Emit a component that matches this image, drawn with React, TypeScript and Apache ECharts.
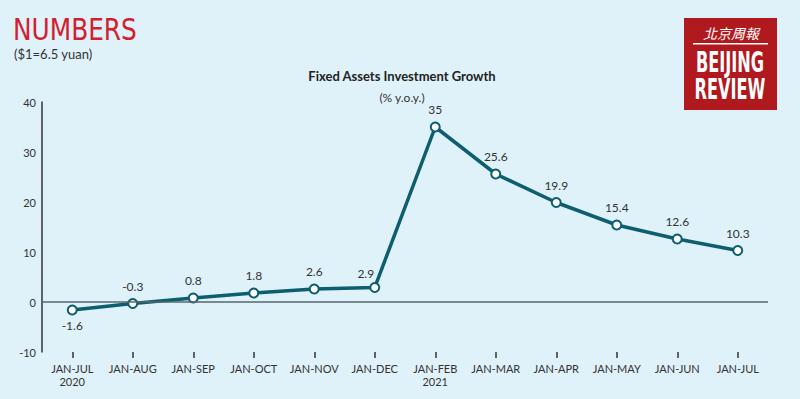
import React, { useEffect, useRef } from "react";
import * as echarts from "echarts";

const categories = [
  "JAN-JUL\n2020", "JAN-AUG", "JAN-SEP", "JAN-OCT", "JAN-NOV", "JAN-DEC",
  "JAN-FEB\n2021", "JAN-MAR", "JAN-APR", "JAN-MAY", "JAN-JUN", "JAN-JUL",
];
const growth = [-1.6, -0.3, 0.8, 1.8, 2.6, 2.9, 35, 25.6, 19.9, 15.4, 12.6, 10.3];
const yMin = -10;
const yMax = 40;
const yInterval = 10;

const title = "Fixed Assets Investment Growth";
const subtitle = "(% y.o.y.)";
const header = "NUMBERS";
const note = "($1=6.5 yuan)";

const LINE = "#0d5e6f";
const TEXT = "#333333";
const BG = "#dff1f9";
const RED = "#d3202f";
const LOGO = "#b0191e";
const FONT = "Lato, 'Noto Sans', sans-serif";

export default function App() {
  const ref = useRef<HTMLDivElement>(null);
  useEffect(() => {
    document.body.style.margin = "0";
    const chart = echarts.init(ref.current!, null, { renderer: "svg" });
    chart.setOption({
      animation: false,
      backgroundColor: BG,
      textStyle: { fontFamily: FONT },
      title: [
        {
          text: title,
          left: 397,
          textAlign: "center",
          top: 64,
          textStyle: { fontSize: 13, fontWeight: "bold", color: "#222", fontFamily: FONT },
        },
        {
          text: subtitle,
          left: 397,
          textAlign: "center",
          top: 86,
          textStyle: { fontSize: 12, fontWeight: "normal", color: TEXT, fontFamily: FONT },
        },
      ],
      graphic: [
        {
          type: "text",
          x: 13,
          y: 15,
          scaleX: 0.92,
          style: {
            text: header,
            fill: RED,
            font: "normal 30px 'DejaVu Sans Condensed', 'Liberation Sans Narrow', sans-serif",
          },
        },
        {
          type: "text",
          x: 14,
          y: 47,
          style: { text: note, fill: TEXT, font: "13px " + FONT },
        },
        {
          type: "rect",
          shape: { x: 684, y: 18, width: 93, height: 92 },
          style: { fill: LOGO },
        },
        {
          type: "text",
          x: 731,
          y: 26,
          style: {
            text: "北京周報",
            fill: "#fff",
            font: "italic 14px 'Noto Sans CJK TC', sans-serif",
            align: "center",
            letterSpacing: 5,
          },
        },
        {
          type: "rect",
          shape: { x: 693, y: 43, width: 75, height: 1.5 },
          style: { fill: "#fff" },
        },
        {
          type: "group",
          x: 730,
          y: 48,
          scaleX: 0.62,
          children: [
            {
              type: "text",
              x: 0,
              y: 0,
              style: {
                text: "BEIJING",
                fill: "#fff",
                font: "bold 29px 'DejaVu Sans Condensed', sans-serif",
                align: "center",
              },
            },
          ],
        },
        {
          type: "group",
          x: 730,
          y: 75,
          scaleX: 0.62,
          children: [
            {
              type: "text",
              x: 0,
              y: 0,
              style: {
                text: "REVIEW",
                fill: "#fff",
                font: "bold 29px 'DejaVu Sans Condensed', sans-serif",
                align: "center",
              },
            },
          ],
        },
      ],
      grid: { left: 42, right: 32, top: 102, bottom: 47 },
      xAxis: {
        type: "category",
        data: categories,
        boundaryGap: true,
        axisLine: { show: false, onZero: false },
        axisTick: { show: true, alignWithLabel: true, interval: 0, length: 6, lineStyle: { color: TEXT, width: 1.5 } },
        axisLabel: { color: TEXT, fontSize: 11, margin: 10, lineHeight: 13, interval: 0, fontFamily: FONT },
        splitLine: { show: false },
      },
      yAxis: {
        type: "value",
        min: yMin,
        max: yMax,
        interval: yInterval,
        axisLine: { show: true, lineStyle: { color: TEXT, width: 1.5 } },
        axisTick: { show: false },
        splitLine: { show: false },
        axisLabel: { color: TEXT, fontSize: 11, margin: 6, fontFamily: FONT },
      },
      series: [
        {
          type: "line",
          data: growth.map((v, i) => ({
            value: v,
            label:
              i === 0
                ? { position: "bottom", distance: 4 }
                : i === 5
                ? { position: "top", offset: [-9, 3] }
                : { position: "top" },
          })),
          lineStyle: { color: LINE, width: 3.5 },
          itemStyle: { color: "#fff", borderColor: LINE, borderWidth: 2 },
          symbol: "circle",
          symbolSize: 9,
          label: {
            show: true,
            color: TEXT,
            fontSize: 12,
            distance: 6,
            fontFamily: FONT,
          },
          markLine: {
            silent: true,
            symbol: "none",
            label: { show: false },
            lineStyle: { color: "#56666c", type: "solid", width: 1.5 },
            data: [{ yAxis: 0 }],
          },
          z: 3,
        },
      ],
    });
    return () => chart.dispose();
  }, []);
  return <div ref={ref} style={{ width: 800, height: 399 }} />;
}
